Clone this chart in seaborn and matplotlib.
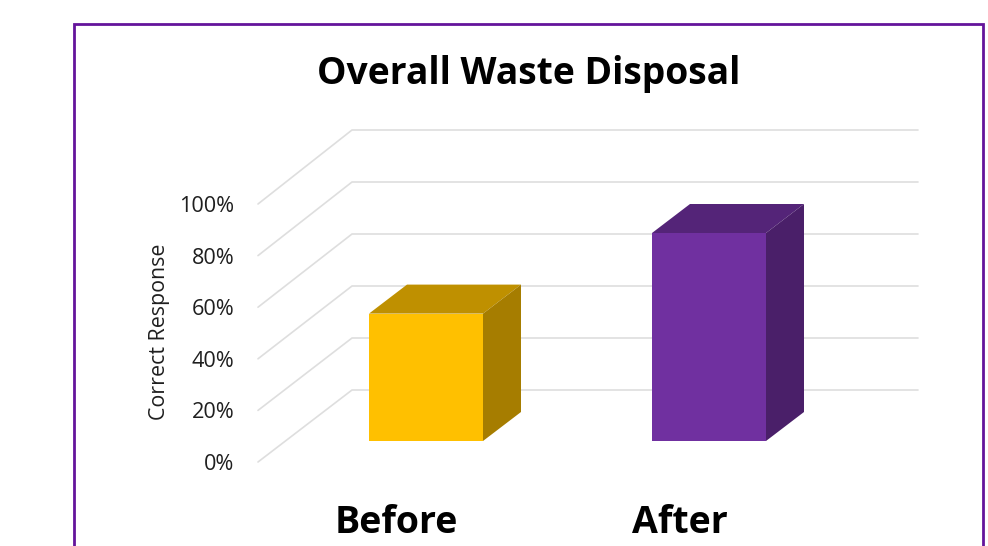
# Overall Waste Disposal - fake 3D bars
import matplotlib.pyplot as plt
from matplotlib.patches import Polygon, Rectangle
import pandas as pd
import seaborn as sns

# data
categories = ["Before", "After"]
correct_pct = [49, 80]
tick_values = [0, 20, 40, 60, 80, 100]
tick_labels = ["0%", "20%", "40%", "60%", "80%", "100%"]

front_colors = ["#FFC000", "#7030A0"]
top_colors = ["#BF9000", "#542478"]
side_colors = ["#A67D00", "#4A1F69"]
grid_color = "#DEDEDE"
frame_color = "#64149B"
text_color = "#1F1F1F"

W, H = 988, 546
# plot box in pixels
left, right, top, bottom = 258, 918, 130, 462
px_per_cat = 283
px_per_pct = 2.6
base_px = 441      # bar front bottom
first_px = 426     # centre of first bar

sns.set_theme(style="white")
plt.rcParams["font.family"] = ["Open Sans", "DejaVu Sans"]

fig = plt.figure(figsize=(W / 100, H / 100), dpi=100, facecolor="white")
ax = fig.add_axes([left / W, 1 - bottom / H, (right - left) / W, (bottom - top) / H])

df = pd.DataFrame({"stage": categories, "pct": correct_pct})
sns.barplot(data=df, x="stage", y="pct", hue="stage", palette=front_colors,
            width=114 / px_per_cat, legend=False, saturation=1, linewidth=0,
            edgecolor="none", ax=ax, zorder=3)

ax.set_xlim((left - first_px) / px_per_cat, (right - first_px) / px_per_cat)
ax.set_ylim((base_px - bottom) / px_per_pct, (base_px - top) / px_per_pct)

# depth of the fake 3D, in data units
bar_dx = 38 / px_per_cat
bar_dy = 29 / px_per_pct
wall_x = (352 - first_px) / px_per_cat
wall_dy = (base_px - 390) / px_per_pct
front_scale = 51.6 / 52
front_dy = (base_px - 462) / px_per_pct

# back wall + side wall gridlines
for v in tick_values:
    back = v + wall_dy
    front = v * front_scale + front_dy
    ax.plot([ax.get_xlim()[0], wall_x, ax.get_xlim()[1]], [front, back, back],
            color=grid_color, lw=1.2, zorder=1, clip_on=False)

# top and side faces from the drawn bars
for bar, tc, sc in zip(ax.patches, top_colors, side_colors):
    x0, x1 = bar.get_x(), bar.get_x() + bar.get_width()
    h = bar.get_height()
    ax.add_patch(Polygon([(x0, h), (x1, h), (x1 + bar_dx, h + bar_dy), (x0 + bar_dx, h + bar_dy)],
                         facecolor=tc, edgecolor="none", zorder=2.5))
    ax.add_patch(Polygon([(x1, 0), (x1 + bar_dx, bar_dy), (x1 + bar_dx, h + bar_dy), (x1, h)],
                         facecolor=sc, edgecolor="none", zorder=2.5))

# tick labels
ax.set_yticks([v * front_scale + front_dy for v in tick_values], tick_labels)
ax.tick_params(axis="y", length=0, pad=17, labelsize=15.6, labelcolor=text_color)
ax.set_xticks([i - 29.5 / px_per_cat for i in range(len(categories))], categories)
ax.tick_params(axis="x", length=0, pad=30, labelsize=27, labelcolor="black")
for t in ax.get_xticklabels():
    t.set_fontweight("bold")
ax.set_xlabel("")
ax.set_ylabel("Correct Response", fontsize=15.4, color=text_color)
ax.yaxis.set_label_coords((170 - left) / (right - left), (bottom - 332) / (bottom - top))
sns.despine(ax=ax, left=True, bottom=True, right=True, top=True)

fig.text(529 / W, 1 - 74 / H, "Overall Waste Disposal", ha="center", va="center",
         fontsize=26.8, fontweight="bold", color="black")

# purple outer frame, runs off the bottom
fig.add_artist(Rectangle((74 / W, -0.05), (983 - 74) / W, 1 - 24 / H + 0.05,
                         transform=fig.transFigure, fill=False,
                         edgecolor=frame_color, lw=2.0))

fig.savefig("out.png", dpi=100)
